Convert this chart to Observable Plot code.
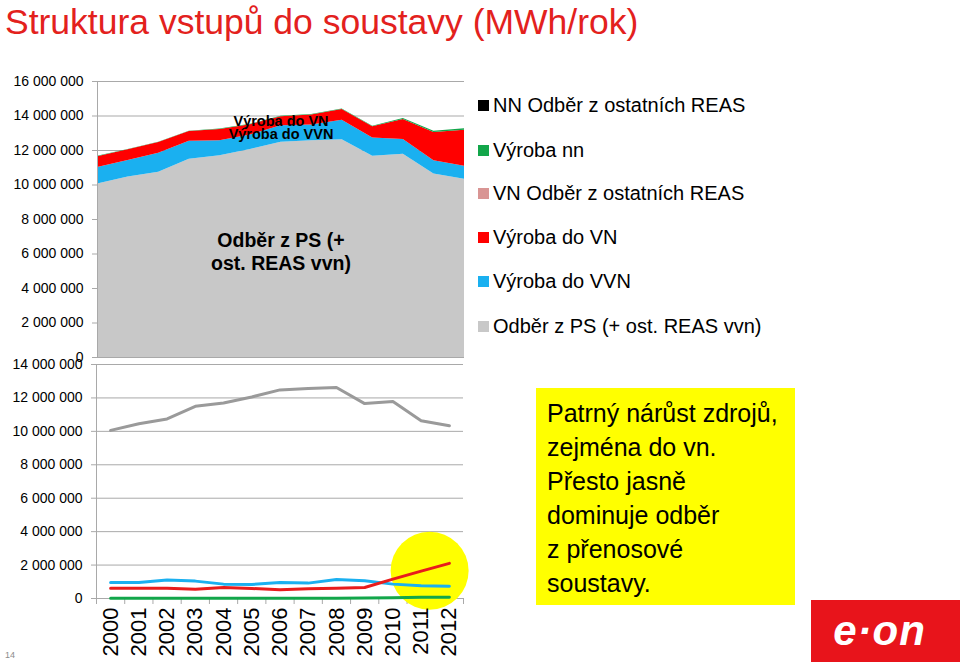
<!DOCTYPE html>
<html>
<head>
<meta charset="utf-8">
<script src="https://cdn.jsdelivr.net/npm/d3@7"></script>
<script src="https://cdn.jsdelivr.net/npm/@observablehq/plot@0.6"></script>
<style>
  html, body { margin: 0; padding: 0; background: #fff; }
  #page { position: relative; width: 960px; height: 662px; overflow: hidden; font-family: "Liberation Sans", Arial, sans-serif; background: #fff; }
  #title { position: absolute; left: 5px; top: 2px; font-size: 35.5px; color: #e3211d; white-space: nowrap; line-height: 40px; }
  .chart { position: absolute; left: 0; }
  #legend { position: absolute; left: 478px; top: 0; }
  .lg { position: absolute; left: 0; height: 24px; display: flex; align-items: center; white-space: nowrap; font-size: 20px; color: #000; }
  .lg .sw { width: 11px; height: 11px; margin-right: 4px; }
  #note { position: absolute; left: 536px; top: 388px; width: 259px; height: 217px; background: #ffff00; box-sizing: border-box; padding: 8px 0 0 11px; font-size: 25px; line-height: 34px; color: #000; }
  #logo { position: absolute; left: 811px; top: 600px; width: 149px; height: 62px; background: #e8141b; color: #fff; font-weight: bold; font-style: italic; font-size: 42px; display: flex; align-items: center; justify-content: center; padding-right: 12px; box-sizing: border-box; letter-spacing: 1px; }
  #pnum { position: absolute; left: 5px; top: 650px; font-size: 9px; color: #8c8c8c; }
</style>
</head>
<body>
<div id="page">
  <div id="title">Struktura vstupů do soustavy (MWh/rok)</div>
  <div id="top" class="chart" style="top:70px"></div>
  <div id="bottom" class="chart" style="top:360px"></div>
  <div id="legend"></div>
  <div id="note">Patrný nárůst zdrojů,<br>zejména do vn.<br>Přesto jasně<br>dominuje odběr<br>z přenosové<br>soustavy.</div>
  <div id="logo">e·on</div>
  <div id="pnum">14</div>
</div>
<script>
// ---- Data (MWh/rok) ----
const years = [2000, 2001, 2002, 2003, 2004, 2005, 2006, 2007, 2008, 2009, 2010, 2011, 2012];
const odberPS   = [10060000, 10460000, 10740000, 11500000, 11700000, 12060000, 12480000, 12560000, 12620000, 11660000, 11780000, 10640000, 10340000];
const vyrobaVVN = [960000, 960000, 1100000, 1040000, 860000, 840000, 960000, 920000, 1140000, 1060000, 860000, 760000, 740000];
const vyrobaVN  = [620000, 620000, 620000, 560000, 660000, 600000, 520000, 580000, 620000, 660000, 1160000, 1640000, 2100000];
const vnOdber   = [0, 0, 0, 0, 0, 0, 0, 0, 0, 0, 0, 0, 0];
const vyrobaNN  = [20000, 20000, 20000, 20000, 20000, 20000, 20000, 20000, 20000, 30000, 50000, 70000, 80000];
const nnOdber   = [0, 0, 0, 0, 0, 0, 0, 0, 0, 0, 0, 0, 0];

// stacking order (bottom to top)
const seriesNames = ["Odběr z PS (+ ost. REAS vvn)", "Výroba do VVN", "Výroba do VN", "VN Odběr z ostatních REAS", "Výroba nn", "NN Odběr z ostatních REAS"];
const seriesValues = [odberPS, vyrobaVVN, vyrobaVN, vnOdber, vyrobaNN, nnOdber];
const areaColors = ["#c8c8c8", "#1ab0f0", "#ff0000", "#d99594", "#12a64a", "#000000"];
const lineColors = ["#9a9a9a", "#1ab0f0", "#e81c1c", "#12a64a"];

const topTicks = [0, 2000000, 4000000, 6000000, 8000000, 10000000, 12000000, 14000000, 16000000];
const bottomTicks = [0, 2000000, 4000000, 6000000, 8000000, 10000000, 12000000, 14000000];

const topLabels = [
  {year: 2006, value: 13740000, text: "Výroba do VN", size: 14.5},
  {year: 2006, value: 12990000, text: "Výroba do VVN", size: 14.5},
  {year: 2006, value: 6180000, text: "Odběr z PS (+\nost. REAS vvn)", size: 19.5}
];
const highlight = [{year: 2011.3, value: 1660000}];

// ---- Build ----
const fmt = d => d3.format(",")(d).replace(/,/g, " ");
const font = "'Liberation Sans', Arial, sans-serif";
const grid = "#a9a9a9";

const stackData = [];
seriesNames.forEach((s, i) => years.forEach((y, j) => stackData.push({series: s, year: y, value: seriesValues[i][j]})));

const topPlot = Plot.plot({
  width: 470, height: 295,
  marginTop: 11, marginBottom: 8, marginLeft: 97, marginRight: 6,
  style: {background: "transparent", fontFamily: font, overflow: "visible"},
  x: {type: "linear", domain: [2000, 2012], axis: null},
  y: {domain: [0, 16000000]},
  color: {domain: seriesNames, range: areaColors},
  marks: [
    Plot.ruleY(topTicks, {stroke: grid}),
    Plot.areaY(stackData, {x: "year", y: "value", fill: "series", order: seriesNames}),
    Plot.ruleX([2000], {stroke: grid}),
    Plot.ruleY([0], {stroke: grid}),
    Plot.axisY({ticks: topTicks, tickSize: 5, tickPadding: 9, tickFormat: fmt, fontSize: 14, stroke: grid, fill: "#000", label: null}),
    Plot.text(topLabels, {x: "year", y: "value", text: "text", fontSize: "size", fontWeight: "bold", fill: "#000", lineHeight: 1.22})
  ]
});
document.getElementById("top").appendChild(topPlot);

const boundaries = years.map(y => y - 0.5).concat([years[years.length - 1] + 0.5]);
const lineSeries = [odberPS, vyrobaVVN, vyrobaVN, vyrobaNN];

const bottomPlot = Plot.plot({
  width: 480, height: 302,
  marginTop: 4, marginBottom: 64, marginLeft: 96, marginRight: 17,
  style: {background: "transparent", fontFamily: font, overflow: "visible"},
  x: {type: "linear", domain: [years[0] - 0.5, years[years.length - 1] + 0.5]},
  y: {domain: [0, 14000000]},
  marks: [
    Plot.ruleY(bottomTicks, {stroke: grid}),
    Plot.ruleX([years[0] - 0.5], {stroke: grid}),
    Plot.axisY({ticks: bottomTicks, tickSize: 5, tickPadding: 9, tickFormat: fmt, fontSize: 14, stroke: grid, fill: "#000", label: null}),
    Plot.axisX({ticks: boundaries, tickSize: 6, tickFormat: () => "", stroke: grid, label: null}),
    Plot.dot(highlight, {x: "year", y: "value", r: 39, fill: "#ffff00", stroke: "none"}),
    ...lineSeries.map((vals, i) => Plot.line(years.map((y, j) => ({year: y, value: vals[j]})), {x: "year", y: "value", stroke: lineColors[i], strokeWidth: 3, strokeLinejoin: "round"})),
    Plot.axisX({ticks: years, tickSize: 0, tickPadding: 9, tickRotate: -90, tickFormat: d => String(d), fontSize: 22, fill: "#000", label: null})
  ]
});
document.getElementById("bottom").appendChild(bottomPlot);

// ---- Legend (top to bottom = reverse stacking order) ----
const legend = document.getElementById("legend");
const legendY = [105, 150, 193.5, 237.7, 281.7, 326.5];
seriesNames.slice().reverse().forEach((name, i) => {
  const color = areaColors[seriesNames.length - 1 - i];
  const row = document.createElement("div");
  row.className = "lg";
  row.style.top = (legendY[i] - 12) + "px";
  row.innerHTML = `<span class="sw" style="background:${color}"></span><span>${name}</span>`;
  legend.appendChild(row);
});
</script>
</body>
</html>
